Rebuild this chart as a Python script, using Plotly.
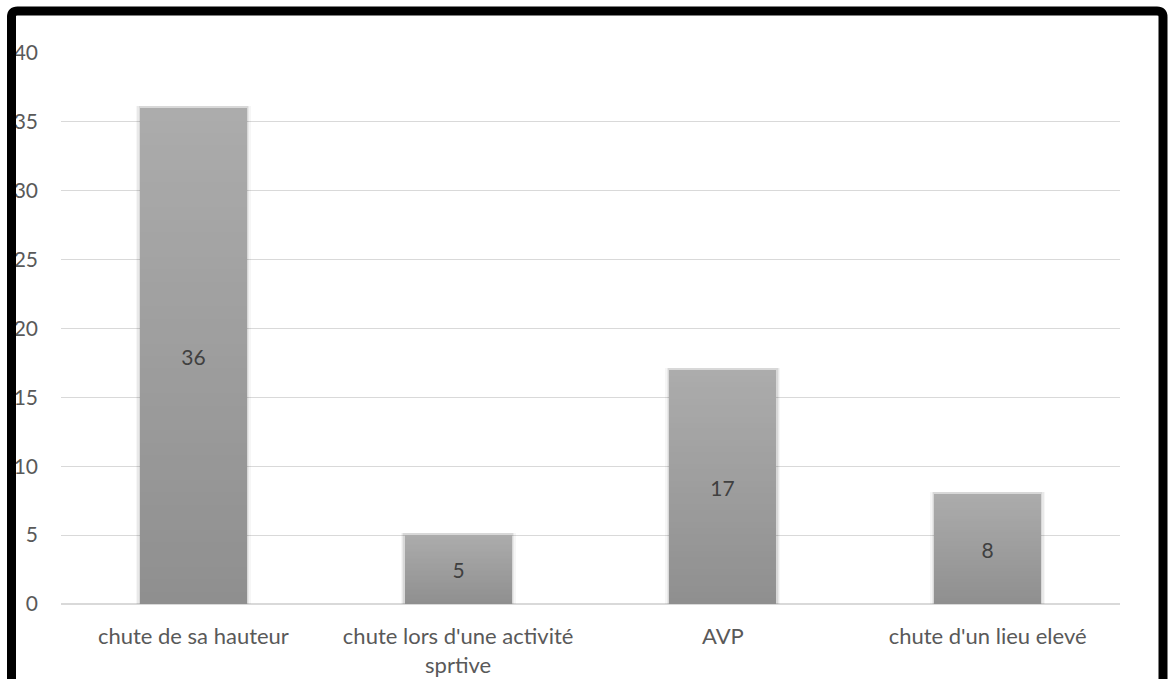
import plotly.graph_objects as go

# Mechanism of the fall (counts)
categories = ["chute de sa hauteur", "chute lors d'une activité<br>sprtive", "AVP", "chute d'un lieu elevé"]
counts = [36, 5, 17, 8]
y_ticks = [0, 5, 10, 15, 20, 25, 30, 35, 40]

W, H = 1168, 679
M_L, M_R, M_T, M_B = 61, 48, 53, 75
FONT = "Lato, Open Sans, sans-serif"
TEXT_GREY = "#595959"
FS = 21
BAR_W = 0.405

TOP_RGB = (172, 172, 172)
BOT_RGB = (143, 143, 143)
N_STEPS = 40


def shade(f):
    r, g, b = (round(BOT_RGB[i] + (TOP_RGB[i] - BOT_RGB[i]) * f) for i in range(3))
    return f"rgb({r},{g},{b})"


fig = go.Figure()

# soft shadow behind the bars
for w, a in [(BAR_W + 0.030, 0.035), (BAR_W + 0.018, 0.05), (BAR_W + 0.008, 0.07)]:
    fig.add_trace(go.Bar(x=categories, y=[v + 0.12 for v in counts], width=w,
                         marker=dict(color=f"rgba(0,0,0,{a})", line=dict(width=0)),
                         hoverinfo="skip", showlegend=False))

# vertical gradient: overlaid bars, each shorter one darker
for k in range(N_STEPS):
    frac_top = (N_STEPS - k) / N_STEPS
    frac_mid = (N_STEPS - k - 0.5) / N_STEPS
    fig.add_trace(go.Bar(x=categories, y=[v * frac_top for v in counts], width=BAR_W,
                         marker=dict(color=shade(frac_mid), line=dict(width=0)),
                         hoverinfo="skip", showlegend=False))

# value labels centred in each bar
fig.add_trace(go.Bar(x=categories, y=counts, width=BAR_W,
                     marker=dict(color="rgba(0,0,0,0)", line=dict(width=0)),
                     text=[str(v) for v in counts], textposition="inside",
                     insidetextanchor="middle", textangle=0,
                     insidetextfont=dict(family=FONT, size=FS, color="#404040"),
                     hoverinfo="skip", showlegend=False))

# outer black frame (rounded corners), bottom edge runs off the page
pw, ph = W - M_L - M_R, H - M_T - M_B
def px(x): return (x - M_L) / pw
def py(y): return (H - M_B - y) / ph
x0, x1, y0, y1, r = 11.5, 1163, 11, 760, 6
path = (f"M {px(x0)},{py(y1)} L {px(x0)},{py(y0 + r)} Q {px(x0)},{py(y0)} {px(x0 + r)},{py(y0)} "
        f"L {px(x1 - r)},{py(y0)} Q {px(x1)},{py(y0)} {px(x1)},{py(y0 + r)} L {px(x1)},{py(y1)}")
fig.add_shape(type="path", path=path, xref="paper", yref="paper",
              line=dict(color="black", width=9), layer="above")

fig.update_layout(
    width=W, height=H,
    margin=dict(l=M_L, r=M_R, t=M_T, b=M_B),
    barmode="overlay", bargap=0,
    plot_bgcolor="white", paper_bgcolor="white",
    font=dict(family=FONT, size=FS, color=TEXT_GREY),
    showlegend=False,
    xaxis=dict(showgrid=False, zeroline=False, showline=False, ticks="",
               ticklabelstandoff=17, automargin=False,
               tickfont=dict(family=FONT, size=22, color=TEXT_GREY)),
    yaxis=dict(range=[0, 40], tickvals=y_ticks, showgrid=True, gridcolor="#d9d9d9",
               gridwidth=1, zeroline=True, zerolinecolor="#d9d9d9", zerolinewidth=2,
               showline=False, ticks="", ticklabelstandoff=22, automargin=False,
               tickfont=dict(family=FONT, size=FS, color=TEXT_GREY)),
)

fig.write_html("out.html")
